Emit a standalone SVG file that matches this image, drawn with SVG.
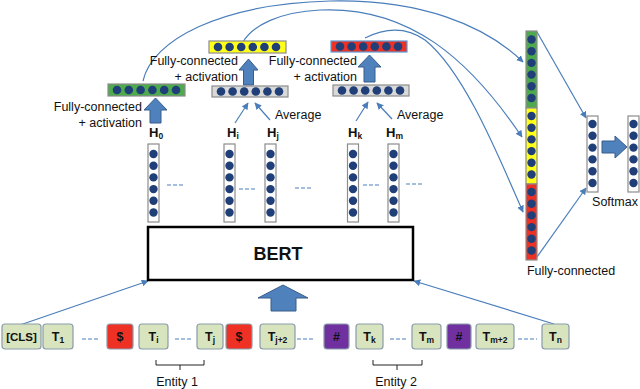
<svg xmlns="http://www.w3.org/2000/svg" width="640" height="389" viewBox="0 0 640 389">
<defs>
<marker id="ah" viewBox="0 0 10 10" refX="9" refY="5" markerWidth="7" markerHeight="7" orient="auto" markerUnits="userSpaceOnUse">
<path d="M0,0 L10,5 L0,10 z" fill="#4A7EBB"/>
</marker>
<style>
text{font-family:"Liberation Sans",Arial,sans-serif;fill:#111}
.lbl{font-size:12.5px}
.h{font-size:13px;font-weight:bold}
.tok{font-size:12.5px;font-weight:bold;text-anchor:middle}
.sub{font-size:8.5px}
.dot{fill:#203F78}
.col{fill:#fff;stroke:#8c8c8c;stroke-width:1.2}
.gbar{fill:#D9D9D9;stroke:#8c8c8c;stroke-width:1.2}
.green{fill:#4DAA4D;stroke:#8c8c8c;stroke-width:1.2}
.yellow{fill:#FFFF1A;stroke:#8c8c8c;stroke-width:1.2}
.red{fill:#EE3124;stroke:#8c8c8c;stroke-width:1.2}
.tg{fill:#D7E4BD;stroke:#8A9BAA;stroke-width:1.2}
.tr{fill:#EE3124;stroke:#8A9BAA;stroke-width:1.2}
.tp{fill:#7030A0;stroke:#8A9BAA;stroke-width:1.2}
.conn{fill:none;stroke:#4A7EBB;stroke-width:1.2}
.dash{stroke:#4A7EBB;stroke-width:1.2;stroke-dasharray:4 2}
.blk{fill:#4F81BD;stroke:#385D8A;stroke-width:1}
.br{fill:none;stroke:#222;stroke-width:1}
</style>
</defs>
<rect width="640" height="389" fill="#fff"/>

<!-- connectors -->
<g id="connectors">
<path class="conn" d="M143,81 C152,40 220,4 330,1 C420,-1 485,25 523,62" marker-end="url(#ah)"/>
<path class="conn" d="M243,42 C253,25 280,12 320,10 C410,6 470,60 522,137" marker-end="url(#ah)"/>
<path class="conn" d="M365,38 C385,28 405,26 425,40 C465,72 500,160 523,212" marker-end="url(#ah)"/>
<path class="conn" d="M537,32 L586,118" marker-end="url(#ah)"/>
<path class="conn" d="M537,257 L586,188" marker-end="url(#ah)"/>
<path class="conn" d="M235,123 L248,103" marker-end="url(#ah)"/>
<path class="conn" d="M270,120 L255,103" marker-end="url(#ah)"/>
<path class="conn" d="M356,121 L368,102" marker-end="url(#ah)"/>
<path class="conn" d="M392,119 L377,103" marker-end="url(#ah)"/>
<path class="conn" d="M20,325 L148,281" marker-end="url(#ah)"/>
<path class="conn" d="M554,324 L414,281" marker-end="url(#ah)"/>
<polygon class="blk" points="155.5,98 167,110 161,110 161,123 150,123 150,110 144,110"/>
<polygon class="blk" points="248.5,59 258,70 253.5,70 253.5,85 243.5,85 243.5,70 239,70"/>
<polygon class="blk" points="369.5,55 381,67 375,67 375,82 364,82 364,67 358,67"/>
<polygon class="blk" points="283,285 308,298 296,298 296,311 271,311 271,298 258,298"/>
<polygon class="blk" points="627,147 615,158 615,153 602,153 602,141 615,141 615,136"/>
</g>

<!-- dashes -->
<g id="dashes">
<line class="dash" x1="167" y1="185" x2="184" y2="185"/>
<line class="dash" x1="239" y1="189" x2="256" y2="189"/>
<line class="dash" x1="295" y1="188" x2="313" y2="188"/>
<line class="dash" x1="363" y1="185" x2="380" y2="185"/>
<line class="dash" x1="406" y1="184" x2="422" y2="184"/>
<line class="dash" x1="82" y1="339" x2="98" y2="339"/>
<line class="dash" x1="175" y1="339" x2="192" y2="339"/>
<line class="dash" x1="297" y1="339" x2="315" y2="339"/>
<line class="dash" x1="390" y1="339" x2="407" y2="339"/>
<line class="dash" x1="518" y1="339" x2="537" y2="339"/>
</g>

<g id="cls-fc">
<rect class="green" x="108" y="84" width="77" height="12"/>
<g class="dot"><circle cx="117" cy="90" r="4.3"/><circle cx="128.8" cy="90" r="4.3"/><circle cx="140.6" cy="90" r="4.3"/><circle cx="152.4" cy="90" r="4.3"/><circle cx="164.2" cy="90" r="4.3"/><circle cx="176" cy="90" r="4.3"/></g>
<text class="lbl" x="142" y="111" text-anchor="end">Fully-connected</text>
<text class="lbl" x="142" y="127" text-anchor="end">+ activation</text>
</g>

<g id="e1-avg">
<rect class="gbar" x="212" y="86" width="76" height="11"/>
<g class="dot"><circle cx="221" cy="91.5" r="4.3"/><circle cx="232.6" cy="91.5" r="4.3"/><circle cx="244.2" cy="91.5" r="4.3"/><circle cx="255.8" cy="91.5" r="4.3"/><circle cx="267.4" cy="91.5" r="4.3"/><circle cx="279" cy="91.5" r="4.3"/></g>
<text class="lbl" x="275" y="119">Average</text>
</g>
<g id="e1-fc">
<rect class="yellow" x="209" y="41" width="77" height="12"/>
<g class="dot"><circle cx="218" cy="47" r="4.3"/><circle cx="229.6" cy="47" r="4.3"/><circle cx="241.2" cy="47" r="4.3"/><circle cx="252.8" cy="47" r="4.3"/><circle cx="264.4" cy="47" r="4.3"/><circle cx="276" cy="47" r="4.3"/></g>
<text class="lbl" x="238" y="65" text-anchor="end">Fully-connected</text>
<text class="lbl" x="238" y="81" text-anchor="end">+ activation</text>
</g>

<g id="e2-avg">
<rect class="gbar" x="333" y="85" width="76" height="11"/>
<g class="dot"><circle cx="342" cy="90.5" r="4.3"/><circle cx="353.6" cy="90.5" r="4.3"/><circle cx="365.2" cy="90.5" r="4.3"/><circle cx="376.8" cy="90.5" r="4.3"/><circle cx="388.4" cy="90.5" r="4.3"/><circle cx="400" cy="90.5" r="4.3"/></g>
<text class="lbl" x="397" y="119">Average</text>
</g>
<g id="e2-fc">
<rect class="red" x="331" y="41" width="76" height="11" style="stroke:#5B9BD5"/>
<g class="dot"><circle cx="340" cy="46.5" r="4.3"/><circle cx="351.6" cy="46.5" r="4.3"/><circle cx="363.2" cy="46.5" r="4.3"/><circle cx="374.8" cy="46.5" r="4.3"/><circle cx="386.4" cy="46.5" r="4.3"/><circle cx="398" cy="46.5" r="4.3"/></g>
<text class="lbl" x="357" y="65" text-anchor="end">Fully-connected</text>
<text class="lbl" x="357" y="81" text-anchor="end">+ activation</text>
</g>

<g id="H0">
<text class="h" x="149" y="137">H<tspan class="sub" dy="2">0</tspan></text>
<rect class="col" x="148" y="144" width="11" height="78"/>
<g class="dot"><circle cx="153.5" cy="154" r="4.2"/><circle cx="153.5" cy="165.7" r="4.2"/><circle cx="153.5" cy="177.4" r="4.2"/><circle cx="153.5" cy="189.1" r="4.2"/><circle cx="153.5" cy="200.8" r="4.2"/><circle cx="153.5" cy="212.5" r="4.2"/></g>
</g>
<g id="Hi">
<text class="h" x="227" y="137">H<tspan class="sub" dy="2">i</tspan></text>
<rect class="col" x="224" y="144" width="11" height="78"/>
<g class="dot"><circle cx="229.5" cy="154" r="4.2"/><circle cx="229.5" cy="165.7" r="4.2"/><circle cx="229.5" cy="177.4" r="4.2"/><circle cx="229.5" cy="189.1" r="4.2"/><circle cx="229.5" cy="200.8" r="4.2"/><circle cx="229.5" cy="212.5" r="4.2"/></g>
</g>
<g id="Hj">
<text class="h" x="267" y="137">H<tspan class="sub" dy="2">j</tspan></text>
<rect class="col" x="265" y="144" width="11" height="78"/>
<g class="dot"><circle cx="270.5" cy="154" r="4.2"/><circle cx="270.5" cy="165.7" r="4.2"/><circle cx="270.5" cy="177.4" r="4.2"/><circle cx="270.5" cy="189.1" r="4.2"/><circle cx="270.5" cy="200.8" r="4.2"/><circle cx="270.5" cy="212.5" r="4.2"/></g>
</g>
<g id="Hk">
<text class="h" x="348" y="137">H<tspan class="sub" dy="2">k</tspan></text>
<rect class="col" x="347.5" y="144" width="11" height="78"/>
<g class="dot"><circle cx="353" cy="154" r="4.2"/><circle cx="353" cy="165.7" r="4.2"/><circle cx="353" cy="177.4" r="4.2"/><circle cx="353" cy="189.1" r="4.2"/><circle cx="353" cy="200.8" r="4.2"/><circle cx="353" cy="212.5" r="4.2"/></g>
</g>
<g id="Hm">
<text class="h" x="386" y="137">H<tspan class="sub" dy="2">m</tspan></text>
<rect class="col" x="388" y="144" width="11" height="78"/>
<g class="dot"><circle cx="393.5" cy="154" r="4.2"/><circle cx="393.5" cy="165.7" r="4.2"/><circle cx="393.5" cy="177.4" r="4.2"/><circle cx="393.5" cy="189.1" r="4.2"/><circle cx="393.5" cy="200.8" r="4.2"/><circle cx="393.5" cy="212.5" r="4.2"/></g>
</g>

<g id="bert">
<rect x="148" y="227" width="265" height="53" fill="#fff" stroke="#000" stroke-width="2.5"/>
<text x="278" y="260" text-anchor="middle" style="font-size:18px;font-weight:bold">BERT</text>
</g>

<g id="concat">
<rect class="green" x="526" y="31" width="11" height="77"/>
<rect class="yellow" x="526" y="108" width="11" height="76"/>
<rect class="red" x="526" y="184" width="11" height="76"/>
<g class="dot">
<circle cx="531.5" cy="39.5" r="4.2"/><circle cx="531.5" cy="51.2" r="4.2"/><circle cx="531.5" cy="62.9" r="4.2"/><circle cx="531.5" cy="74.6" r="4.2"/><circle cx="531.5" cy="86.3" r="4.2"/><circle cx="531.5" cy="98" r="4.2"/>
<circle cx="531.5" cy="116" r="4.2"/><circle cx="531.5" cy="127.7" r="4.2"/><circle cx="531.5" cy="139.4" r="4.2"/><circle cx="531.5" cy="151.1" r="4.2"/><circle cx="531.5" cy="162.8" r="4.2"/><circle cx="531.5" cy="174.5" r="4.2"/>
<circle cx="531.5" cy="192" r="4.2"/><circle cx="531.5" cy="203.7" r="4.2"/><circle cx="531.5" cy="215.4" r="4.2"/><circle cx="531.5" cy="227.1" r="4.2"/><circle cx="531.5" cy="238.8" r="4.2"/><circle cx="531.5" cy="250.5" r="4.2"/>
</g>
<text class="lbl" x="571" y="275" text-anchor="middle">Fully-connected</text>
</g>

<g id="fc-out">
<rect class="col" x="587" y="116" width="11" height="76"/>
<g class="dot"><circle cx="592.5" cy="124" r="4.2"/><circle cx="592.5" cy="135.8" r="4.2"/><circle cx="592.5" cy="147.6" r="4.2"/><circle cx="592.5" cy="159.4" r="4.2"/><circle cx="592.5" cy="171.2" r="4.2"/><circle cx="592.5" cy="183" r="4.2"/></g>
</g>
<g id="softmax">
<rect class="col" x="628" y="116" width="11" height="76"/>
<g class="dot"><circle cx="633.5" cy="124" r="4.2"/><circle cx="633.5" cy="135.8" r="4.2"/><circle cx="633.5" cy="147.6" r="4.2"/><circle cx="633.5" cy="159.4" r="4.2"/><circle cx="633.5" cy="171.2" r="4.2"/><circle cx="633.5" cy="183" r="4.2"/></g>
<text class="lbl" x="615" y="206" text-anchor="middle">Softmax</text>
</g>

<g id="tok-cls"><rect class="tg" x="2" y="324" width="39" height="25" rx="3"/><text class="tok" x="21.5" y="341" style="font-size:11.5px">[CLS]</text></g>
<g id="tok-t1"><rect class="tg" x="43" y="324" width="30" height="25" rx="3"/><text class="tok" x="58" y="341">T<tspan class="sub" dy="2">1</tspan></text></g>
<g id="tok-d1"><rect class="tr" x="107" y="324" width="26" height="25" rx="3"/><text class="tok" x="120" y="341">$</text></g>
<g id="tok-ti"><rect class="tg" x="139" y="324" width="29" height="25" rx="3"/><text class="tok" x="153.5" y="341">T<tspan class="sub" dy="2">i</tspan></text></g>
<g id="tok-tj"><rect class="tg" x="197" y="324" width="26" height="25" rx="3"/><text class="tok" x="210" y="341">T<tspan class="sub" dy="2">j</tspan></text></g>
<g id="tok-d2"><rect class="tr" x="226" y="324" width="26" height="25" rx="3"/><text class="tok" x="239" y="341">$</text></g>
<g id="tok-tj2"><rect class="tg" x="260" y="324" width="35" height="25" rx="3"/><text class="tok" x="277.5" y="341">T<tspan class="sub" dy="2">j+2</tspan></text></g>
<g id="tok-h1"><rect class="tp" x="324" y="324" width="25" height="25" rx="3"/><text class="tok" x="336.5" y="341">#</text></g>
<g id="tok-tk"><rect class="tg" x="356" y="324" width="27" height="25" rx="3"/><text class="tok" x="369.5" y="341">T<tspan class="sub" dy="2">k</tspan></text></g>
<g id="tok-tm"><rect class="tg" x="412" y="324" width="29" height="25" rx="3"/><text class="tok" x="426.5" y="341">T<tspan class="sub" dy="2">m</tspan></text></g>
<g id="tok-h2"><rect class="tp" x="447" y="324" width="24" height="25" rx="3"/><text class="tok" x="459" y="341">#</text></g>
<g id="tok-tm2"><rect class="tg" x="476" y="324" width="38" height="25" rx="3"/><text class="tok" x="495" y="341">T<tspan class="sub" dy="2">m+2</tspan></text></g>
<g id="tok-tn"><rect class="tg" x="542" y="324" width="27" height="25" rx="3"/><text class="tok" x="555.5" y="341">T<tspan class="sub" dy="2">n</tspan></text></g>

<g id="entity1">
<path class="br" d="M156,360 V365 H204 V360 M180,365 V370"/>
<text class="lbl" x="177" y="386" text-anchor="middle">Entity 1</text>
</g>
<g id="entity2">
<path class="br" d="M373,360 V365 H422 V360 M397,365 V370"/>
<text class="lbl" x="396" y="386" text-anchor="middle">Entity 2</text>
</g>
</svg>
